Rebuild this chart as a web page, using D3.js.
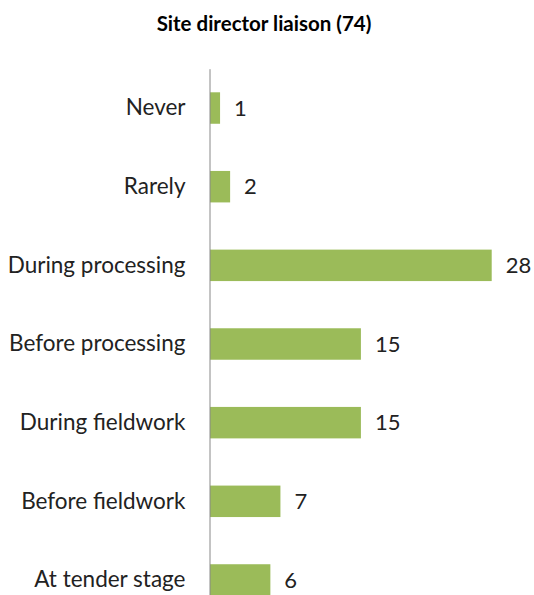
<!DOCTYPE html>
<html><head><meta charset="utf-8">
<script src="https://cdn.jsdelivr.net/npm/d3@7"></script>
<style>body{margin:0;background:#fff;} svg{display:block;}</style>
</head><body>
<svg id="c" width="534" height="595"></svg>
<script>
const categories = ["Never","Rarely","During processing","Before processing","During fieldwork","Before fieldwork","At tender stage"];
const values = [1,2,28,15,15,7,6];
const title = "Site director liaison (74)";

const svg = d3.select("#c");
const font = "Lato, 'Open Sans', sans-serif";
const y = d3.scaleBand().domain(categories).range([68.7, 619.3]).paddingInner(0.6).paddingOuter(0.3);
const x = d3.scaleLinear().domain([0,28]).range([210, 491.7]);

svg.append("text").attr("x",264).attr("y",31).attr("text-anchor","middle")
  .style("font-family",font).style("font-weight","bold").style("font-size","20.5px").attr("fill","#000").text(title);

svg.selectAll("rect.bar").data(values).join("rect").attr("class","bar")
  .attr("x",x(0)).attr("y",(d,i)=>y(categories[i])).attr("width",d=>x(d)-x(0)).attr("height",y.bandwidth())
  .attr("fill","#9BBB59");

const ax = svg.append("g").attr("transform","translate(209.5,0)").call(d3.axisLeft(y).tickSize(0).tickPadding(24));
ax.select(".domain").attr("stroke","#888").attr("stroke-width",1);
ax.selectAll("text").style("font-family",font).style("font-size","22.5px").attr("fill","#222");

svg.selectAll("text.val").data(values).join("text").attr("class","val")
  .attr("x",d=>x(d)+14).attr("y",(d,i)=>y(categories[i])+y.bandwidth()/2).attr("dy","0.35em")
  .style("font-family",font).style("font-size","22px").attr("fill","#222").text(d=>d);
</script>
</body></html>
